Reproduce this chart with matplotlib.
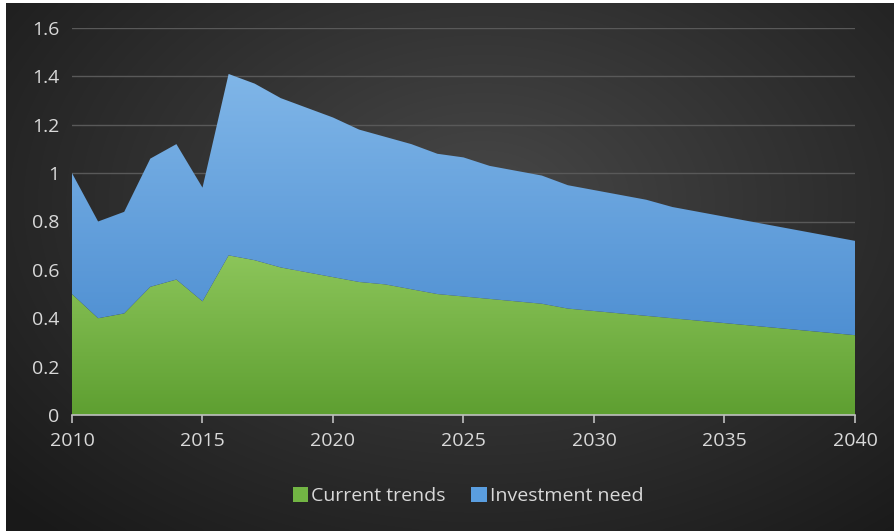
import numpy as np
import matplotlib
matplotlib.use("Agg")
import matplotlib.pyplot as plt
from matplotlib.colors import LinearSegmentedColormap
from matplotlib.patches import Rectangle

plt.rcParams['font.family'] = ['Open Sans', 'DejaVu Sans']

years = list(range(2010, 2041))
current_trends = [0.50, 0.40, 0.42, 0.53, 0.56, 0.47, 0.66, 0.64, 0.61, 0.59,
                  0.57, 0.55, 0.54, 0.52, 0.50, 0.49, 0.48, 0.47, 0.46, 0.44,
                  0.43, 0.42, 0.41, 0.40, 0.39, 0.38, 0.37, 0.36, 0.35, 0.34, 0.33]
total_need = [1.00, 0.80, 0.84, 1.06, 1.12, 0.94, 1.41, 1.37, 1.31, 1.27,
              1.23, 1.18, 1.15, 1.12, 1.08, 1.065, 1.03, 1.01, 0.99, 0.95,
              0.93, 0.91, 0.89, 0.86, 0.84, 0.82, 0.80, 0.78, 0.76, 0.74, 0.72]
investment_need = [t - c for t, c in zip(total_need, current_trends)]
x_ticks = [2010, 2015, 2020, 2025, 2030, 2035, 2040]
y_ticks = [0, 0.2, 0.4, 0.6, 0.8, 1, 1.2, 1.4, 1.6]
y_tick_labels = ["0", "0.2", "0.4", "0.6", "0.8", "1", "1.2", "1.4", "1.6"]
series_names = ["Current trends", "Investment need"]

W, H = 894, 531
fig = plt.figure(figsize=(W / 100, H / 100), dpi=100, facecolor="white")

# radial dark background panel
bg_ax = fig.add_axes([0, 0, 1, 1])
bg_ax.set_xlim(0, W)
bg_ax.set_ylim(H, 0)
bg_ax.axis("off")
gx, gy = np.meshgrid(np.linspace(0, W, 300), np.linspace(0, H, 200))
r = np.sqrt(((gx - 480) / 620) ** 2 + ((gy - 200) / 420) ** 2)
shade = np.clip(0.28 - 0.17 * r, 0.10, 0.29)
img = np.dstack([shade, shade, shade])
bg_ax.imshow(img, extent=[6, W, H, 3], aspect="auto", interpolation="bicubic")

ax = fig.add_axes([72 / W, 1 - 415 / H, 783 / W, 387 / H])
ax.set_facecolor("none")

for yv in y_ticks[1:]:
    ax.axhline(yv, color="#595959", lw=1.0, zorder=1)


def gradient_fill(lower, upper, top_color, bottom_color, y0, y1, label):
    poly = ax.fill_between(years, lower, upper, color="none", lw=0, zorder=2)
    cmap = LinearSegmentedColormap.from_list("g", [bottom_color, top_color])
    grad = np.linspace(0, 1, 256).reshape(-1, 1)
    im = ax.imshow(grad, cmap=cmap, origin="lower", aspect="auto",
                   extent=[years[0], years[-1], y0, y1], zorder=2)
    im.set_clip_path(poly.get_paths()[0], transform=ax.transData)
    return Rectangle((0, 0), 1, 1, facecolor=top_color, edgecolor="none", label=label)


h1 = gradient_fill([0] * len(years), current_trends, "#8cc55a", "#5e9f31", 0, 0.66, series_names[0])
h2 = gradient_fill(current_trends, total_need, "#80b6e8", "#4084cc", 0, 1.41, series_names[1])
ax.set_xlim(years[0], years[-1])
ax.set_ylim(0, 1.6)

for s in ["left", "right", "top"]:
    ax.spines[s].set_visible(False)
ax.spines["bottom"].set_color("#bfbfbf")
ax.spines["bottom"].set_linewidth(1.2)
ax.spines["bottom"].set_zorder(3)

ax.set_xticks(x_ticks)
ax.set_xticklabels([str(v) for v in x_ticks])
ax.set_yticks(y_ticks)
ax.set_yticklabels(y_tick_labels)
ax.tick_params(axis="x", colors="#bfbfbf", length=6, width=1.2, direction="out",
               labelcolor="#d9d9d9", labelsize=14, pad=6)
ax.tick_params(axis="y", length=0, labelcolor="#d9d9d9", labelsize=14, pad=9)

leg = fig.legend(handles=[h1, h2], loc="center", bbox_to_anchor=(468 / W, 1 - 496 / H),
                 ncol=2, frameon=False, fontsize=14, handlelength=0.8, handleheight=0.8,
                 handletextpad=0.15, columnspacing=1.3)
for t in leg.get_texts():
    t.set_color("#d9d9d9")
leg.legend_handles[0].set_facecolor("#72b544")
leg.legend_handles[1].set_facecolor("#5a9ee0")

fig.savefig("out.png", dpi=100, facecolor="white")
